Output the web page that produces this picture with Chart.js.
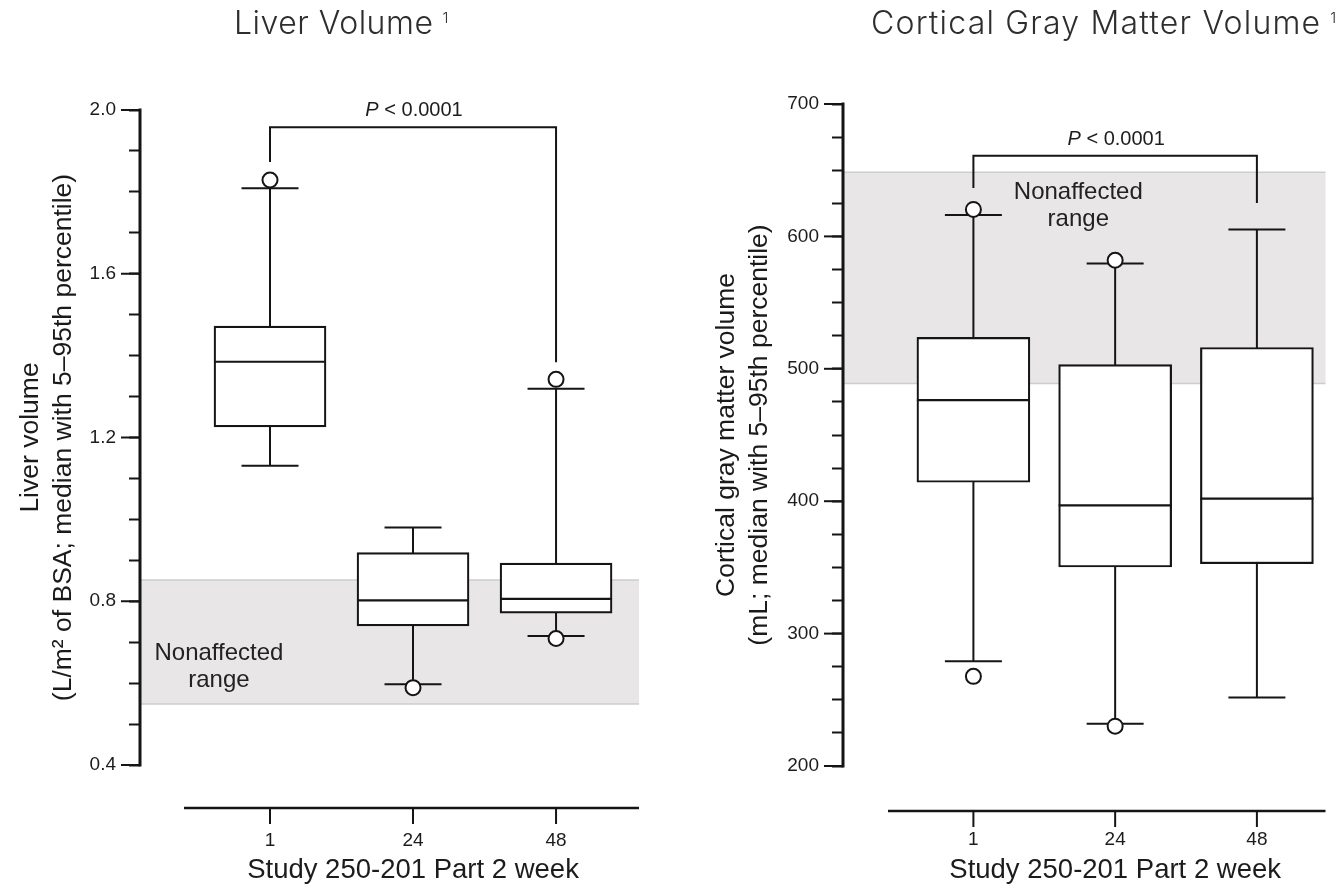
<!DOCTYPE html>
<html>
<head>
<meta charset="utf-8">
<script src="https://cdn.jsdelivr.net/npm/chart.js@4.4.1/dist/chart.umd.min.js"></script>
<style>
  html, body { margin: 0; padding: 0; background: #fff; }
  #wrap { position: relative; width: 1335px; height: 884px; overflow: hidden; }
  .panel { position: absolute; top: 0; height: 884px; }
  #liverPanel { left: 0; width: 667px; }
  #grayPanel { left: 667px; width: 668px; }
</style>
</head>
<body>
<div id="wrap">
  <div class="panel" id="liverPanel"><canvas id="liverChart" width="667" height="884"></canvas></div>
  <div class="panel" id="grayPanel"><canvas id="grayChart" width="668" height="884"></canvas></div>
</div>
<script>
const weeks = ['1', '24', '48'];

// liver volume (L/m2 of BSA): 5th pct, Q1, median, Q3, 95th pct, points outside
const liverLow = [1.131, 0.597, 0.715];
const liverQ1 = [1.226, 0.740, 0.771];
const liverMedian = [1.385, 0.802, 0.806];
const liverQ3 = [1.472, 0.919, 0.893];
const liverHigh = [1.809, 0.980, 1.319];
const liverOutliers = [[1.829], [0.589], [1.342, 0.709]];
const liverNormalRange = [0.549, 0.852];

// cortical gray matter volume (mL)
const grayLow = [279.2, 231.9, 251.8];
const grayQ1 = [414.3, 350.3, 352.8];
const grayMedian = [476.3, 396.9, 402.0];
const grayQ3 = [523.7, 503.2, 516.1];
const grayHigh = [616.1, 579.6, 605.3];
const grayOutliers = [[620.4, 267.7], [582.0, 230.1], []];
const grayNormalRange = [488.9, 648.4];

const INK = '#151515';
const SANS = '"Liberation Sans", Arial, sans-serif';
const HEAD = 'Inter, "Noto Sans", sans-serif';

Chart.defaults.font.family = SANS;
Chart.defaults.color = '#1c1c1c';

function isMajor(v, step) {
  const r = v / step;
  return Math.abs(r - Math.round(r)) < 1e-6;
}

function strokeLine(ctx, x1, y1, x2, y2) {
  ctx.beginPath();
  ctx.moveTo(x1, y1);
  ctx.lineTo(x2, y2);
  ctx.stroke();
}

// whiskers, medians, normal band, axis lines and notes, all placed through the chart scales
function boxExtras(d) {
  return {
    id: 'boxExtras',
    beforeDatasetsDraw(chart) {
      const {ctx, chartArea: area, scales: {x, y}} = chart;
      ctx.save();
      const top = y.getPixelForValue(d.normal[1]);
      const bottom = y.getPixelForValue(d.normal[0]);
      ctx.fillStyle = '#e8e6e6';
      ctx.fillRect(area.left, top, area.right - area.left, bottom - top);
      ctx.strokeStyle = '#cdcdcd';
      ctx.lineWidth = 1.5;
      strokeLine(ctx, area.left, top, area.right, top);
      strokeLine(ctx, area.left, bottom, area.right, bottom);

      ctx.fillStyle = '#222';
      ctx.font = '24px ' + SANS;
      ctx.textAlign = 'center';
      ctx.textBaseline = 'alphabetic';
      const lx = x.getPixelForValue(d.note.x);
      const ly = y.getPixelForValue(d.note.y);
      ctx.fillText('Nonaffected', lx, ly);
      ctx.fillText('range', lx, ly + 27);

      ctx.strokeStyle = INK;
      ctx.lineWidth = 2;
      d.low.forEach((lo, i) => {
        const px = x.getPixelForValue(i);
        const yl = y.getPixelForValue(lo);
        const yh = y.getPixelForValue(d.high[i]);
        strokeLine(ctx, px, yh, px, yl);
        strokeLine(ctx, px - d.cap, yh, px + d.cap, yh);
        strokeLine(ctx, px - d.cap, yl, px + d.cap, yl);
      });
      ctx.restore();
    },
    afterDatasetsDraw(chart) {
      const {ctx, scales: {x, y}} = chart;
      ctx.save();
      ctx.strokeStyle = INK;
      ctx.lineWidth = 2.2;
      d.median.forEach((m, i) => {
        const px = x.getPixelForValue(i);
        const py = y.getPixelForValue(m);
        strokeLine(ctx, px - d.boxWidth / 2, py, px + d.boxWidth / 2, py);
      });
      ctx.restore();
    },
    afterDraw(chart) {
      const {ctx, chartArea: area, scales: {x, y}} = chart;
      ctx.save();
      ctx.strokeStyle = INK;

      // y axis line and the longer labelled ticks
      ctx.lineWidth = 3;
      strokeLine(ctx, area.left, y.getPixelForValue(d.yMax) - 1.5, area.left, y.getPixelForValue(d.yMin) + 1.5);
      ctx.lineWidth = 2;
      y.ticks.forEach(t => {
        if (isMajor(t.value, d.yMajor)) {
          const py = y.getPixelForValue(t.value);
          strokeLine(ctx, area.left - 19, py, area.left, py);
        }
      });

      // detached x axis
      const axisY = area.bottom + d.xGap;
      ctx.lineWidth = 2.5;
      strokeLine(ctx, d.xStart, axisY, area.right, axisY);
      ctx.lineWidth = 2;
      x.ticks.forEach(t => {
        const px = x.getPixelForValue(t.value);
        strokeLine(ctx, px, axisY, px, axisY + 16);
      });
      const first = x.getPixelForValue(0);
      const last = x.getPixelForValue(weeks.length - 1);
      ctx.fillStyle = '#1c1c1c';
      ctx.font = '27.5px ' + SANS;
      ctx.textAlign = 'center';
      ctx.textBaseline = 'alphabetic';
      ctx.fillText('Study 250-201 Part 2 week', (first + last) / 2, 878);

      // significance bracket
      const bt = y.getPixelForValue(d.bracket.top);
      ctx.lineWidth = 2;
      ctx.beginPath();
      ctx.moveTo(first, y.getPixelForValue(d.bracket.left));
      ctx.lineTo(first, bt);
      ctx.lineTo(last, bt);
      ctx.lineTo(last, y.getPixelForValue(d.bracket.right));
      ctx.stroke();

      ctx.textAlign = 'left';
      ctx.font = 'italic 20px ' + SANS;
      const pW = ctx.measureText('P').width;
      ctx.font = '20px ' + SANS;
      const restW = ctx.measureText(' < 0.0001').width;
      const sx = (first + last) / 2 + 1 - (pW + restW) / 2;
      ctx.font = 'italic 20px ' + SANS;
      ctx.fillText('P', sx, bt - 11);
      ctx.font = '20px ' + SANS;
      ctx.fillText(' < 0.0001', sx + pW, bt - 11);

      // panel heading
      ctx.fillStyle = '#2e2e2e';
      ctx.font = '300 32px ' + HEAD;
      ctx.letterSpacing = d.headingSpacing;
      ctx.fillText(d.heading, d.headingX, 34);
      const hw = ctx.measureText(d.heading).width;
      ctx.letterSpacing = '0px';
      ctx.font = '300 15px ' + HEAD;
      ctx.fillText('1', d.headingX + hw + 9, 23);
      ctx.restore();
    }
  };
}

function buildChart(canvasId, d) {
  const boxes = weeks.map((w, i) => ({x: i, y: [d.q1[i], d.q3[i]]}));
  const points = [];
  d.outliers.forEach((vals, i) => vals.forEach(v => points.push({x: i, y: v})));

  return new Chart(document.getElementById(canvasId), {
    type: 'bar',
    data: {
      datasets: [
        {
          type: 'scatter',
          data: points,
          pointRadius: 7.5,
          pointBorderWidth: 2,
          pointBackgroundColor: '#fff',
          pointBorderColor: INK,
          order: 0,
        },
        {
          type: 'bar',
          data: boxes,
          backgroundColor: '#fff',
          borderColor: INK,
          borderWidth: 2.2,
          borderSkipped: false,
          barThickness: d.boxWidth,
          order: 1,
        },
      ],
    },
    options: {
      responsive: false,
      animation: false,
      events: [],
      layout: {padding: d.padding},
      plugins: {
        legend: {display: false},
        title: {display: false},
        tooltip: {enabled: false},
      },
      scales: {
        x: {
          type: 'linear',
          offset: false,
          min: d.xMin,
          max: d.xMax,
          afterFit: (scale) => { scale.height = d.xHeight; },
          border: {display: false},
          grid: {display: false, drawTicks: false},
          ticks: {
            stepSize: 1,
            includeBounds: false,
            padding: d.xLabelPad,
            color: '#1c1c1c',
            font: {size: 19},
            callback: (v) => weeks[v] ?? '',
          },
        },
        y: {
          type: 'linear',
          min: d.yMin,
          max: d.yMax,
          afterFit: (scale) => { scale.width = d.yWidth; },
          border: {display: false},
          grid: {
            display: true,
            drawOnChartArea: false,
            drawTicks: true,
            tickLength: 11,
            tickWidth: 2,
            tickColor: INK,
          },
          ticks: {
            stepSize: d.yStep,
            autoSkip: false,
            padding: 13,
            color: '#1c1c1c',
            font: {size: 19},
            callback: (v) => isMajor(v, d.yMajor) ? v.toFixed(d.decimals) : '',
          },
          title: {
            display: true,
            text: d.yTitle,
            color: '#1a1a1a',
            font: {size: 26.5, lineHeight: 1.25},
            padding: {top: d.yTitlePad, bottom: 0},
          },
        },
      },
    },
    plugins: [boxExtras(d)],
  });
}

buildChart('liverChart', {
  low: liverLow, q1: liverQ1, median: liverMedian, q3: liverQ3, high: liverHigh,
  outliers: liverOutliers, normal: liverNormalRange,
  heading: 'Liver Volume', headingX: 234, headingSpacing: '0.5px',
  yTitle: ['Liver volume', '(L/m\u00b2 of BSA; median with 5\u201395th percentile)'],
  yMin: 0.4, yMax: 2.0, yStep: 0.1, yMajor: 0.4, decimals: 1,
  xMin: -0.909, xMax: 2.580,
  padding: {top: 110, right: 28, bottom: 0, left: 0},
  yWidth: 140, xHeight: 119, xLabelPad: 64, yTitlePad: 14,
  xGap: 43, xStart: 184, boxWidth: 112, cap: 28.5,
  bracket: {top: 1.958, left: 1.873, right: 1.384},
  note: {x: -0.357, y: 0.657},
});

buildChart('grayChart', {
  low: grayLow, q1: grayQ1, median: grayMedian, q3: grayQ3, high: grayHigh,
  outliers: grayOutliers, normal: grayNormalRange,
  heading: 'Cortical Gray Matter Volume', headingX: 204, headingSpacing: '1.2px',
  yTitle: ['Cortical gray matter volume', '(mL; median with 5\u201395th percentile)'],
  yMin: 200, yMax: 700, yStep: 25, yMajor: 100, decimals: 0,
  xMin: -0.920, xMax: 2.484,
  padding: {top: 104, right: 0, bottom: 0, left: 0},
  yWidth: 176, xHeight: 118, xLabelPad: 62, yTitlePad: 43,
  xGap: 45, xStart: 221, boxWidth: 113, cap: 28.5,
  bracket: {top: 660.9, left: 636.5, right: 625.2},
  note: {x: 0.740, y: 628.2},
});
</script>
</body>
</html>
